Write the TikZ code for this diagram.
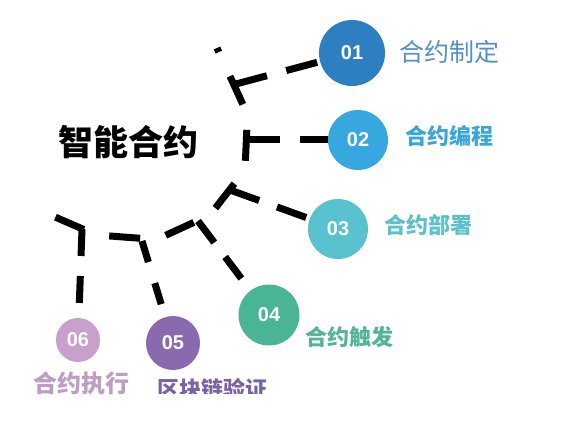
\documentclass[tikz,border=0pt]{standalone}
\usepackage{fontspec}
\setmainfont{Noto Sans CJK SC}
\newfontfamily\numfont{Liberation Sans}
\definecolor{c1}{HTML}{2E7EC2}
\definecolor{c2}{HTML}{37A8DF}
\definecolor{c3}{HTML}{58C2CF}
\definecolor{c4}{HTML}{4AB496}
\definecolor{c5}{HTML}{8A6AAE}
\definecolor{c6}{HTML}{C7A0CC}
\definecolor{t1}{HTML}{5290C8}
\definecolor{t2}{HTML}{3BA5DA}
\definecolor{t3}{HTML}{5DC0CC}
\definecolor{t4}{HTML}{52B598}
\definecolor{t5}{HTML}{7A62A6}
\definecolor{t6}{HTML}{BE9CC6}
\begin{document}
\begin{tikzpicture}[x=1pt,y=-1pt,
  spine/.style={line width=7pt, dash pattern=on 31pt off 26.5pt, dash phase=26.5pt},
  branch/.style={line width=7pt},
  num/.style={circle, inner sep=0pt, text=white, font=\numfont\bfseries\fontsize{20}{20}\selectfont},
  lab/.style={inner sep=0pt, font=\bfseries\fontsize{22}{22}\selectfont}]
\useasboundingbox (0,0) rectangle (575,422);
% spine
\coordinate (v0) at (217,48);
\coordinate (v1) at (247.5,114.5);
\coordinate (v2) at (245,170);
\coordinate (v3) at (210,215);
\coordinate (v4) at (156.5,239.5);
\coordinate (v5) at (96.5,235);
\coordinate (v6) at (55,217);
\draw[spine] (v0) -- (v1) -- (v2) -- (v3) -- (v4) -- (v5) -- (v6);
% junctions
\coordinate (j1) at (236,84);
\coordinate (j2) at (247,140);
\coordinate (j3) at (230,190);
\coordinate (j4) at (198,221);
\coordinate (j5) at (142,241);
\coordinate (j6) at (82,229);
% circles
\node[num, fill=c1, minimum size=66pt] (n1) at (352,53) {01};
\node[num, fill=c2, minimum size=60pt] (n2) at (358,140) {02};
\node[num, fill=c3, minimum size=60pt] (n3) at (338,229) {03};
\node[num, fill=c4, minimum size=61pt] (n4) at (269,315) {04};
\node[num, fill=c5, minimum size=54pt] (n5) at (173,343) {05};
\node[num, fill=c6, minimum size=44pt] (n6) at (78,340) {06};
% branches
\draw[branch, dash pattern=on 32pt off 20pt] (j1) -- (n1);
\draw[branch, dash pattern=on 33pt off 20pt] (j2) -- (n2);
\draw[branch, dash pattern=on 31pt off 19pt] (j3) -- (n3);
\draw[branch, dash pattern=on 27pt off 18pt] (j4) -- (n4);
\draw[branch, dash pattern=on 22pt off 22pt] (j5) -- (n5);
\draw[branch, dash pattern=on 27pt off 20pt] (j6) -- (n6);
% labels
\node[inner sep=0pt, font=\bfseries\fontsize{35}{35}\selectfont] (title) at (128,142) {智能合约};
\node[inner sep=0pt, text=t1, font=\fontsize{25}{25}\selectfont] (l1) at (449,52) {合约制定};
\node[lab, text=t2] (l2) at (449,136) {合约编程};
\node[lab, text=t3] (l3) at (428,225) {合约部署};
\node[lab, text=t4] (l4) at (349,337) {合约触发};
\node[lab, text=t6, font=\bfseries\fontsize{24}{24}\selectfont] (l6) at (81,383) {合约执行};
\begin{scope}
\clip (0,0) rectangle (575,393);
\node[lab, text=t5] (l5) at (212,389) {区块链验证};
\end{scope}
\end{tikzpicture}
\end{document}
